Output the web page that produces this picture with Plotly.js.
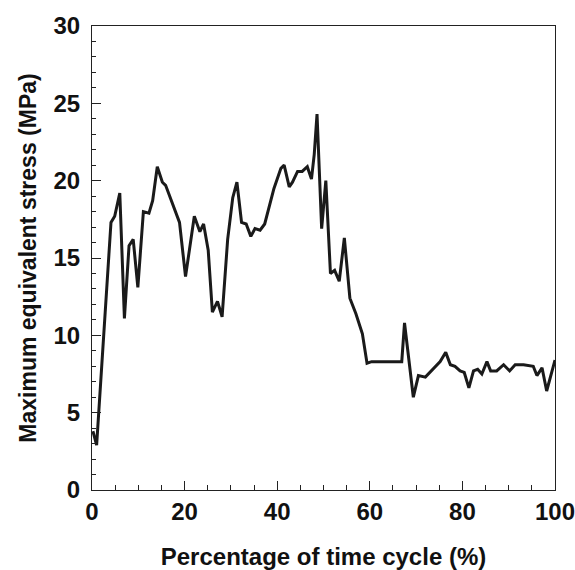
<!DOCTYPE html>
<html>
<head>
<meta charset="utf-8">
<script src="https://cdn.plot.ly/plotly-3.0.1.min.js"></script>
<style>html,body{margin:0;padding:0;background:#fff;}#chart{width:575px;height:570px;}</style>
</head>
<body>
<div id="chart"></div>
<script>
var timePct = [0.2, 1.0, 4.1, 4.9, 6.0, 7.0, 8.0, 8.9, 9.9, 11.1, 12.3, 13.1, 14.1, 15.2, 15.9, 18.9, 20.2, 22.1, 23.3, 24.1, 25.1, 26.0, 27.1, 28.1, 29.3, 30.4, 31.3, 32.3, 33.3, 34.3, 35.2, 36.3, 37.3, 39.3, 40.8, 41.5, 42.6, 43.3, 44.4, 45.4, 46.5, 47.4, 48.0, 48.6, 49.6, 50.5, 51.5, 52.4, 53.4, 54.5, 55.7, 57.0, 58.4, 59.4, 60.4, 66.9, 67.5, 69.4, 70.5, 72.0, 75.2, 76.4, 77.4, 78.4, 79.5, 80.4, 81.4, 82.4, 83.3, 84.2, 85.3, 86.1, 87.4, 88.9, 90.2, 91.4, 93.2, 95.3, 96.1, 97.2, 98.2, 100];
var stressMPa = [3.8, 2.9, 17.3, 17.7, 19.2, 11.1, 15.8, 16.2, 13.1, 18.0, 17.9, 18.7, 20.9, 19.9, 19.7, 17.3, 13.8, 17.7, 16.7, 17.2, 15.5, 11.5, 12.2, 11.2, 16.2, 18.9, 19.9, 17.3, 17.2, 16.4, 16.9, 16.8, 17.2, 19.5, 20.8, 21.0, 19.6, 19.9, 20.6, 20.6, 20.9, 20.1, 21.7, 24.3, 16.9, 20.0, 14.0, 14.2, 13.5, 16.3, 12.4, 11.4, 10.1, 8.2, 8.3, 8.3, 10.8, 6.0, 7.4, 7.3, 8.3, 8.9, 8.1, 8.0, 7.7, 7.6, 6.6, 7.7, 7.8, 7.5, 8.3, 7.7, 7.7, 8.1, 7.7, 8.1, 8.1, 8.0, 7.4, 7.9, 6.4, 8.4];
var xTitle = 'Percentage of time cycle (%)';
var yTitle = 'Maximum equivalent stress (MPa)';

var fontFam = 'Liberation Sans, Arial, sans-serif';
var trace = {
  x: timePct, y: stressMPa, type: 'scatter', mode: 'lines',
  line: {color: '#1a1a1a', width: 3}, hoverinfo: 'skip'
};
var axisCommon = {
  showgrid: false, zeroline: false, showline: true, linecolor: '#222', linewidth: 1,
  mirror: true, ticks: 'inside', tickcolor: '#222', ticklen: 9, tickwidth: 1,
  tickfont: {family: fontFam, size: 24, color: '#111', weight: 'bold'},
  ticklabeloverflow: 'allow',
  automargin: false
};
var layout = {
  width: 575, height: 570,
  margin: {l: 92, r: 20, t: 26, b: 80},
  paper_bgcolor: '#fff', plot_bgcolor: '#fff',
  showlegend: false,
  xaxis: Object.assign({}, axisCommon, {
    range: [0, 100], dtick: 20, tick0: 0, ticklabelstandoff: 0,
    minor: {dtick: 5, ticks: 'inside', ticklen: 5, tickcolor: '#222', showgrid: false},
    title: {text: xTitle, font: {family: fontFam, size: 24, color: '#111', weight: 'bold'}}
  }),
  yaxis: Object.assign({}, axisCommon, {
    range: [0, 30], dtick: 5, tick0: 0, ticklabelstandoff: 6,
    minor: {dtick: 1, ticks: 'inside', ticklen: 4, tickcolor: '#222', showgrid: false},
    title: {text: yTitle, font: {family: fontFam, size: 23, color: '#111', weight: 'bold'}}
  })
};
Plotly.newPlot('chart', [trace], layout, {displayModeBar: false, staticPlot: true});
</script>
</body>
</html>
